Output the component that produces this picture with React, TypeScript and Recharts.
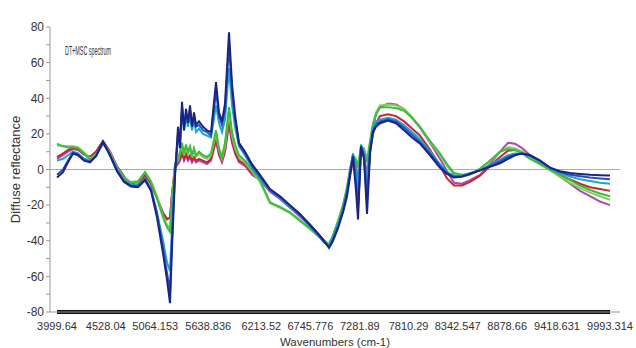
import { Line, LineChart, ReferenceLine, XAxis, YAxis } from "recharts";

// wavenumber (cm-1) of every sampled point
const wavenumbers = [
  3999.6, 4064.7, 4118.9, 4173.1, 4227.3, 4292.3, 4357.3, 4422.3, 4498.2, 4574.1, 4649.9, 4725.8,
  4801.7, 4877.5, 4953.4, 5018.3, 5083.5, 5148.5, 5191.9, 5224.4, 5246.1, 5278.6, 5311.1, 5332.8,
  5354.5, 5376.2, 5397.9, 5419.5, 5441.2, 5462.9, 5484.6, 5506.3, 5538.8, 5582.1, 5625.5, 5668.9,
  5723.1, 5755.6, 5788.1, 5820.6, 5864.0, 5896.5, 5929.0, 5972.4, 6037.4, 6113.3, 6200.0, 6308.4,
  6416.8, 6525.2, 6633.6, 6742.0, 6828.7, 6893.7, 6947.9, 6991.3, 7045.5, 7099.7, 7143.0, 7175.5,
  7208.0, 7240.6, 7262.2, 7294.7, 7327.2, 7359.8, 7392.3, 7424.8, 7457.3, 7500.7, 7587.4, 7674.1,
  7760.8, 7847.5, 7934.2, 8042.6, 8151.0, 8226.9, 8302.7, 8389.4, 8476.1, 8584.5, 8692.9, 8801.3,
  8888.0, 8963.9, 9039.8, 9126.5, 9234.9, 9343.3, 9451.6, 9560.0, 9668.4, 9776.8, 9885.2, 9993.3,
];

const navy = [
  -4.5, -1.5, 4, 9, 8, 5, 4, 7.5, 15.5, 8, -1, -7, -9.5, -10, -6,
  -12, -27, -47, -62, -75, -44, -4,
  24, 12, 38, 22, 34, 26, 36, 24, 32, 25, 27, 24, 22, 21,
  49, 32, 27, 37, 77, 48, 31, 15, 10, 3, -3,
  -11, -15, -20, -25, -31, -36, -40, -44,
  -40, -33, -24, -15, -4, 7, -12, -28, 13, 6, -25, 9, 21, 24, 26,
  27.5, 26, 22, 18, 14.5, 8, 1, -2.5, -4.5, -4, -2.5, -0.5, 1.5, 3.5, 6, 8, 9, 8, 5, 1, -1, -2,
  -2.5, -3, -3.2, -3.4,
];

const blue = [
  -3, 0, 5, 9.5, 8.5, 5.5, 4.5, 7.5, 15.5, 8, -0.5, -6.5, -9, -9.5, -5.5,
  -11, -25, -44, -58, -68, -38, -2,
  20, 14, 35, 24, 32, 27, 34, 25, 30, 24, 25, 22, 21, 19,
  44, 30, 25, 33, 70, 44, 28, 14, 9, 2, -4,
  -11.5, -15.5, -20.5, -25.5, -31.5, -36.5, -40.5, -43.5,
  -39, -32, -23, -13, -2, 8, -8, -22, 12, 8, -18, 11, 22, 25, 27,
  28, 27, 23.5, 19.5, 15.5, 9, 2, -2, -4, -3.8, -2.3, -0.5, 2, 4.5, 7, 8.5, 9, 8, 5, 1, -1.5, -3,
  -3.8, -4.5, -5, -5.5,
];

const cyan = [
  5, 6, 8, 10, 9, 6, 5, 8, 15, 8.5, 0, -6, -8.5, -9, -5,
  -11, -24, -40, -52, -57, -32, 0,
  16, 20, 33, 22, 30, 24, 31, 22, 28, 21, 23, 20, 19, 18,
  36, 26, 21, 28, 57, 36, 24, 13, 8, 1, -5,
  -12, -16, -21, -26, -32, -37, -41, -43,
  -38, -31, -22, -12, -1, 9, -2, -12, 14, 10, -8, 13, 23, 27, 28,
  29, 28, 25, 21, 17, 10, 3, -1.5, -3.5, -3.5, -2, -0.5, 2.5, 5.5, 8, 9, 9, 7.5, 4.5, 0.5, -2, -4,
  -5.5, -6.5, -7.5, -8,
];

const green = [
  14.5, 13, 12.5, 12.5, 12, 9, 5.5, 8, 14.5, 9, 0.5, -5, -7.5, -7, -1.5,
  -7, -16, -27, -32.5, -35, -19, 2,
  6, 10, 15, 9, 14, 10, 13, 8, 12, 8, 10, 8, 7, 9,
  22, 12, 7, 15, 35, 21, 14, 8, 5, 0, -6,
  -18.5, -21, -24, -28.5, -33, -37, -40, -42,
  -37, -29, -20, -10, 0, 8, 5, 1, 13, 11, 4, 15, 25, 31, 35,
  35, 34.5, 33, 29, 24, 16, 9, 3, -2, -3, -2.5, 0.5, 5, 10, 11.5, 11, 9, 6, 3, 0, -3, -6,
  -9, -11.5, -13.5, -15,
];

const lime = [
  13.5, 13, 13, 13, 12.5, 9.5, 6, 8.5, 14.5, 9.5, 1, -4.5, -7, -6.5, -1.5,
  -6.5, -15, -26, -31, -33, -17, 3,
  5, 9, 13, 8, 12, 9, 12, 7, 11, 7, 9, 7, 6, 8,
  20, 11, 6, 13, 32, 19, 12, 7, 4, -1, -7,
  -19, -21.5, -24.5, -29, -33.5, -37.5, -40, -42,
  -37, -29, -20, -10, 0, 8, 6, 3, 12, 12, 6, 16, 26, 32, 36,
  36.5, 36, 34, 29.5, 24, 15.5, 8, 2, -3, -4, -3, 0, 4.5, 10, 12.5, 12, 10, 6.5, 3, -0.5, -4, -7.5,
  -10.5, -13, -15, -17,
];

const red = [
  7, 9, 11, 12, 11.5, 8.5, 7, 10, 16, 10, 1.5, -4, -8, -8.5, -3,
  -8, -16, -25, -28, -27, -14, 2,
  4, 6, 10, 6, 9, 6, 8, 5, 7, 5, 6, 5, 4, 6,
  17, 9, 5, 11, 28, 16, 10, 5, 3, -2, -5,
  -12, -16, -21, -26, -31, -36, -40, -43,
  -39, -32, -23, -13, -3, 6, -6, -20, 10, 7, -15, 10, 20, 26, 30,
  31, 30, 27, 23, 19, 11, 2, -5, -9, -9, -7, -3.5, 2, 7, 10.5, 11, 10, 7, 3.5, 0, -3, -5.5,
  -8, -10, -11, -12,
];

const purple = [
  6, 8, 10, 11.5, 11, 8.5, 7, 10, 16, 10, 2, -4, -8.5, -9, -3.5,
  -8, -16, -24, -27.5, -27, -14, 1,
  3, 5, 9, 5, 8, 5, 7, 4, 6, 4, 5, 4, 3, 5,
  16, 8, 4, 10, 25, 15, 9, 4, 2, -3, -6,
  -12.5, -16.5, -21.5, -26.5, -31.5, -36, -40, -43,
  -39, -31, -22, -12, -1, 8, 2, -6, 12, 9, -4, 13, 24, 31, 35,
  37, 36.5, 34, 29, 23.5, 15, 6, -1, -7.5, -8, -6, -3, 3, 10, 15, 14.5, 12, 8, 4, 0, -4, -8,
  -12, -15, -18, -20,
];

const xTicks = [
  3999.64, 4528.04, 5064.153, 5638.836, 6213.52, 6745.776, 7281.89, 7810.29, 8342.547, 8878.66,
  9418.631, 9993.314,
];
const yTicks = [-80, -70, -60, -50, -40, -30, -20, -10, 0, 10, 20, 30, 40, 50, 60, 70, 80];

const seriesList = [
  { key: "purple", values: purple, color: "#a848bc" },
  { key: "red", values: red, color: "#c4282e" },
  { key: "lime", values: lime, color: "#86d048" },
  { key: "green", values: green, color: "#3cbc46" },
  { key: "cyan", values: cyan, color: "#1ea6c8" },
  { key: "blue", values: blue, color: "#2350c4" },
  { key: "navy", values: navy, color: "#1b2482" },
];

const data = wavenumbers.map((x, i) => {
  const row: Record<string, number> = { x };
  seriesList.forEach((s) => {
    row[s.key] = s.values[i];
  });
  return row;
});

const font = "'Liberation Sans', Arial, sans-serif";

export default function App() {
  return (
    <div style={{ position: "relative", width: 636, height: 348, background: "#fff", fontFamily: font }}>
      <style>{"body{margin:0}"}</style>
      <LineChart width={636} height={348} data={data} margin={{ top: 27, right: 16, left: 0, bottom: 0 }}>
        <XAxis
          dataKey="x"
          type="number"
          domain={[3999.64, 9993.314]}
          ticks={xTicks}
          interval={0}
          padding={{ left: 7, right: 10 }}
          tickFormatter={(v: number) => String(v)}
          tick={{ fontSize: 11, fill: "#333", fontFamily: font }}
          tickLine={false}
          tickMargin={4}
          axisLine={{ stroke: "#999" }}
          height={36}
          label={{ value: "Wavenumbers (cm-1)", position: "insideBottom", offset: 2, fontSize: 11.5, fill: "#333", fontFamily: font }}
        />
        <YAxis
          type="number"
          domain={[-80, 80]}
          ticks={yTicks}
          interval={0}
          width={50}
          tickFormatter={(v: number) => (v % 20 === 0 ? String(v) : "")}
          tick={{ fontSize: 12, fill: "#333", fontFamily: font }}
          tickLine={{ stroke: "#999" }}
          tickSize={4}
          axisLine={{ stroke: "#999" }}
          label={{
            value: "Diffuse reflectance",
            angle: -90,
            position: "insideLeft",
            offset: 15,
            fontSize: 13,
            fill: "#333",
            fontFamily: font,
            style: { textAnchor: "middle" },
          }}
        />
        <ReferenceLine y={0} stroke="#aaa" strokeWidth={1} />
        <ReferenceLine
          segment={[
            { x: 3999.64, y: -80 },
            { x: 9993.314, y: -80 },
          ]}
          stroke="#111"
          strokeWidth={4}
          ifOverflow="visible"
        />
        {seriesList.map((s) => (
          <Line
            key={s.key}
            dataKey={s.key}
            type="linear"
            stroke={s.color}
            strokeWidth={2}
            dot={false}
            isAnimationActive={false}
          />
        ))}
      </LineChart>
      <svg width={636} height={348} style={{ position: "absolute", left: 0, top: 0, pointerEvents: "none" }}>
        <text x={65} y={55} fontSize={12} fill="#333" fontFamily={font} textLength={46} lengthAdjust="spacingAndGlyphs">
          DT+MSC spectrum
        </text>
      </svg>
    </div>
  );
}
